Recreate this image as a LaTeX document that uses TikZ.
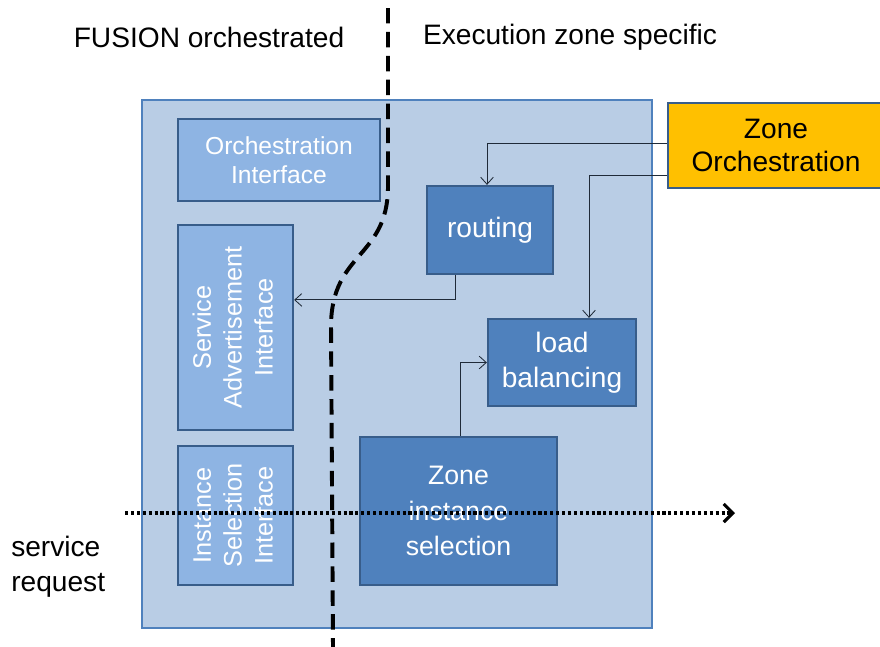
\documentclass[tikz,border=0pt]{standalone}
\usepackage{fontspec}
\setmainfont{Liberation Sans}
\usetikzlibrary{arrows.meta,positioning}
\definecolor{hostfill}{HTML}{B9CDE5}
\definecolor{hostline}{HTML}{4F81BD}
\definecolor{lightfill}{HTML}{8EB4E3}
\definecolor{darkfill}{HTML}{4F81BD}
\definecolor{boxline}{HTML}{385D8A}
\definecolor{zonefill}{HTML}{FFC000}
\definecolor{linkcol}{HTML}{1F2A38}

\begin{document}
\begin{tikzpicture}[x=0.025cm,y=-0.025cm,
      host/.style={draw=hostline,fill=hostfill,line width=1.4pt,
        minimum width=12.75cm,minimum height=13.2cm,inner sep=0pt},
      block/.style={draw=boxline,line width=1.6pt,text=white,align=center,inner sep=2pt},
      iface/.style={block,fill=lightfill,font=\fontsize{18}{22}\selectfont},
      unit/.style={block,fill=darkfill},
      zoneorch/.style={draw=boxline,fill=zonefill,line width=1.6pt,align=center,
        font=\fontsize{20}{24}\selectfont,minimum width=5.4cm,minimum height=2.125cm},
      heading/.style={font=\fontsize{20}{24}\selectfont,inner sep=0pt},
      link/.style={draw=linkcol,line width=.6pt,-{Straight Barb[length=5pt,width=9pt]}},
      divider/.style={line width=2.8pt,dash pattern=on 11pt off 6pt},
      request/.style={line width=2.2pt,dash pattern=on 2.2pt off 2pt,
        -{Straight Barb[length=6.5pt,width=13pt,line width=2.2pt]}}
    ]
    \useasboundingbox (0,0) rectangle (880,646);

    \node[heading] (fusion) at (209,37) {FUSION orchestrated};
    \node[heading] (exec) at (570,37) {Execution zone specific};

    \node[host] (host) at (397,364) {};

    \node[iface,minimum width=5.05cm,minimum height=2.05cm,
      font=\fontsize{17.5}{21}\selectfont] (orchif) at (279,160) {Orchestration\\Interface};
    \node[iface,minimum width=2.875cm,minimum height=5.125cm] (sai) at (235.5,327.5)
      {\rotatebox{90}{\begin{tabular}{@{}c@{}}Service\\Advertisement\\Interface\end{tabular}}};
    \node[iface,minimum width=2.875cm,minimum height=3.475cm] (isi) at (235.5,515.5)
      {\rotatebox{90}{\begin{tabular}{@{}c@{}}Instance\\Selection\\Interface\end{tabular}}};

    \node[unit,minimum width=3.15cm,minimum height=2.2cm,
      font=\fontsize{20}{24}\selectfont] (routing) at (490,230) {routing};
    \node[unit,minimum width=3.7cm,minimum height=2.175cm,
      font=\fontsize{20}{25}\selectfont] (lb) at (562,362.5) {load\\balancing};
    \node[unit,minimum width=4.925cm,minimum height=3.7cm,
      font=\fontsize{19}{25}\selectfont] (zis) at (458.5,511) {Zone\\instance\\selection};

    \node[zoneorch] (zorch) at (776,145.5) {Zone\\Orchestration};

    \node[heading,anchor=west,align=left,font=\fontsize{20}{25}\selectfont] (req) at (11,567)
      {service\\request};

    \draw[link] ([yshift=0.04cm]zorch.west) -| ([xshift=-0.075cm]routing.north);
    \draw[link] ([yshift=-0.74cm]zorch.west) -| ([xshift=0.675cm]lb.north);
    \draw[link] ([xshift=-0.875cm]routing.south) |- ([yshift=0.69cm]sai.east);
    \draw[link] ([xshift=0.04cm]zis.north) |- (lb.west);

    \coordinate (cut top) at (388,8);
    \coordinate (cut bend) at (388,188);
    \coordinate (cut low) at (331,325);
    \coordinate (cut end) at (333,648);
    \draw[divider] (cut top) -- (cut bend) .. controls (387,258) and (332,252) .. (cut low) -- (cut end);

    \coordinate (req in) at (125,513);
    \coordinate (req out) at (735,513);
    \draw[request] (req in) -- (req out);
  \end{tikzpicture}
\end{document}
